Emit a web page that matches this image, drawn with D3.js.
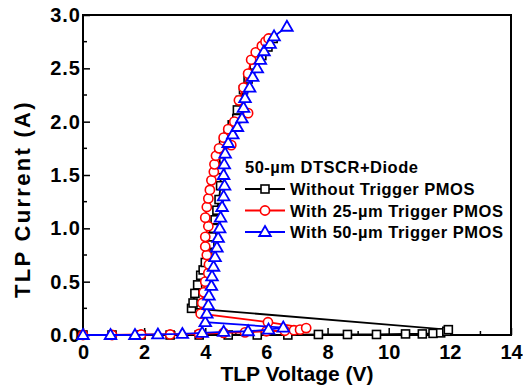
<!DOCTYPE html>
<html>
<head>
<meta charset="utf-8">
<script src="https://cdn.jsdelivr.net/npm/d3@7"></script>
<style>
  body { margin: 0; background: #fff; }
  svg { display: block; font-family: "Liberation Sans", Arial, sans-serif; font-weight: bold; }
</style>
</head>
<body>
<div id="chart"></div>
<script>
const withoutV = [0, 0.95, 1.9, 2.85, 3.8, 4.75, 5.7, 6.7, 7.7, 8.65, 9.6, 10.55, 11.1, 11.45, 11.7, 11.9, 11.95,
  3.55, 3.6, 3.66, 3.75, 3.85, 3.93, 4.0, 4.08, 4.15, 4.22, 4.27, 4.32, 4.38, 4.45, 4.5, 4.5, 4.45, 4.6, 4.75, 4.88, 5.03, 5.05, 5.15, 5.25, 5.4, 5.6, 5.85, 6.05, 6.22];
const withoutI = [0, 0, 0, 0, 0, 0, 0, 0, 0.005, 0.005, 0.005, 0.01, 0.01, 0.015, 0.02, 0.035, 0.05,
  0.25, 0.3, 0.39, 0.47, 0.56, 0.61, 0.68, 0.76, 0.85, 0.92, 1.0, 1.08, 1.17, 1.27, 1.4, 1.55, 1.7, 1.8, 1.89, 1.97, 2.03, 2.11, 2.2, 2.3, 2.4, 2.53, 2.62, 2.7, 2.78, 2.84];

const pmos25V = [0, 0.95, 1.9, 2.85, 3.8, 4.6, 5.3, 6.0, 6.6, 6.9, 7.1, 7.3, 6.05,
  3.85, 3.9, 3.95, 4.0, 4.1, 4.12, 4.05, 4.0, 4.0, 4.1, 4.0, 4.05, 4.1, 4.15, 4.2, 4.28, 4.3, 4.35, 4.45, 4.85, 4.6, 4.75, 4.95, 5.4, 5.1, 5.25, 5.4, 5.5, 5.65, 5.85, 5.97, 6.07];
const pmos25I = [0, 0, 0.005, 0.005, 0.01, 0.02, 0.025, 0.035, 0.04, 0.045, 0.05, 0.065, 0.12,
  0.2, 0.3, 0.4, 0.5, 0.58, 0.66, 0.75, 0.83, 0.92, 1.02, 1.1, 1.2, 1.28, 1.36, 1.45, 1.53, 1.6, 1.68, 1.75, 1.78, 1.85, 1.93, 2.0, 2.08, 2.2, 2.32, 2.45, 2.58, 2.65, 2.71, 2.75, 2.78];

const pmos50V = [0, 0.9, 1.7, 2.45, 3.25, 3.9, 4.6, 5.4, 6.07, 6.55,
  4.0, 4.05, 4.1, 4.12, 4.2, 4.22, 4.27, 4.32, 4.38, 4.42, 4.47, 4.5, 4.55, 4.6, 4.63, 4.6, 4.62, 4.65, 4.75, 4.9, 5.05, 5.2, 5.25, 5.3, 5.45, 5.55, 5.7, 5.8, 5.92, 6.12, 6.25, 6.67];
const pmos50I = [0, 0, 0, 0.005, 0.01, 0.02, 0.03, 0.035, 0.05, 0.07,
  0.12, 0.2, 0.28, 0.37, 0.46, 0.55, 0.64, 0.73, 0.82, 0.91, 1.0, 1.1, 1.2, 1.3, 1.4, 1.5, 1.6, 1.7, 1.8, 1.88, 1.95, 2.03, 2.13, 2.22, 2.32, 2.42, 2.5, 2.58, 2.66, 2.73, 2.8, 2.89];

const seriesNames = ['Without Trigger PMOS', 'With 25-\u00b5m Trigger PMOS', 'With 50-\u00b5m Trigger PMOS'];
const seriesColors = ['#000000', '#ff0000', '#0000ff'];
const seriesShapes = ['square', 'circle', 'triangle'];
const legendTitle = '50-\u00b5m DTSCR+Diode';
const xTicks = [0, 2, 4, 6, 8, 10, 12, 14];
const yTicks = [0, 0.5, 1.0, 1.5, 2.0, 2.5, 3.0];

const series = [
  { v: withoutV, i: withoutI },
  { v: pmos25V, i: pmos25I },
  { v: pmos50V, i: pmos50I },
].map((s, k) => ({
  name: seriesNames[k],
  color: seriesColors[k],
  shape: seriesShapes[k],
  points: s.v.map((v, j) => ({ v: v, i: s.i[j] })),
}));

const svgWidth = 523, svgHeight = 389;
const margin = { top: 15, right: 12, bottom: 54, left: 83 };
const width = svgWidth - margin.left - margin.right;
const height = svgHeight - margin.top - margin.bottom;

const svg = d3.select('#chart').append('svg')
  .attr('width', svgWidth)
  .attr('height', svgHeight);
const g = svg.append('g').attr('transform', `translate(${margin.left},${margin.top})`);

const x = d3.scaleLinear().domain([0, 14]).range([0, width]);
const y = d3.scaleLinear().domain([0, 3]).range([height, 0]);

// minor ticks (inward)
const xMinor = d3.range(1, 14, 2);
const yMinor = d3.range(0.25, 3, 0.5);
g.selectAll('.xminor').data(xMinor).enter().append('line')
  .attr('x1', (d) => x(d)).attr('x2', (d) => x(d))
  .attr('y1', height).attr('y2', height - 4)
  .attr('stroke', '#000').attr('stroke-width', 1.5);
g.selectAll('.yminor').data(yMinor).enter().append('line')
  .attr('x1', 0).attr('x2', 4)
  .attr('y1', (d) => y(d)).attr('y2', (d) => y(d))
  .attr('stroke', '#000').attr('stroke-width', 1.5);

// axes with inward major ticks
const xAxis = g.append('g')
  .attr('transform', `translate(0,${height})`)
  .call(d3.axisBottom(x).tickValues(xTicks).tickSize(-7).tickPadding(10).tickSizeOuter(0));
const yAxis = g.append('g')
  .call(d3.axisLeft(y).tickValues(yTicks).tickFormat(d3.format('.1f')).tickSize(-7).tickPadding(2).tickSizeOuter(0));
[xAxis, yAxis].forEach((a) => {
  a.select('.domain').remove();
  a.selectAll('line').attr('stroke-width', 1.5);
  a.selectAll('text')
    .style('font-family', '"Liberation Sans", Arial, sans-serif')
    .style('font-weight', 'bold')
    .style('font-size', '20px')
    .attr('fill', '#000');
});
yAxis.selectAll('text').style('letter-spacing', '1px');

// frame
g.append('rect')
  .attr('width', width).attr('height', height)
  .attr('fill', 'none').attr('stroke', '#000').attr('stroke-width', 2);

// axis titles
svg.append('text')
  .attr('x', margin.left + width / 2).attr('y', 381)
  .attr('text-anchor', 'middle')
  .style('font-size', '21px')
  .text('TLP Voltage (V)');
svg.append('text')
  .attr('transform', `translate(30,199) rotate(-90)`)
  .attr('text-anchor', 'middle')
  .style('font-size', '22px')
  .style('letter-spacing', '2.3px')
  .text('TLP Current (A)');

const line = d3.line().x((d) => x(d.v)).y((d) => y(d.i));

function drawMarker(sel, shape, color) {
  if (shape === 'square') {
    sel.append('rect').attr('x', -4).attr('y', -4).attr('width', 8).attr('height', 8)
      .attr('fill', '#fff').attr('stroke', color).attr('stroke-width', 1.6);
  } else if (shape === 'circle') {
    sel.append('circle').attr('r', 4.6)
      .attr('fill', '#fff').attr('stroke', color).attr('stroke-width', 1.6);
  } else {
    sel.append('path').attr('d', 'M0,-6L5.8,4L-5.8,4Z')
      .attr('fill', '#fff').attr('stroke', color).attr('stroke-width', 1.8);
  }
}

series.forEach((s) => {
  g.append('path')
    .datum(s.points)
    .attr('fill', 'none')
    .attr('stroke', s.color)
    .attr('stroke-width', 1.8)
    .attr('d', line);
  g.selectAll(null).data(s.points).enter().append('g')
    .attr('transform', (d) => `translate(${x(d.v)},${y(d.i)})`)
    .each(function () { drawMarker(d3.select(this), s.shape, s.color); });
});

// legend
const legend = svg.append('g').attr('transform', 'translate(245,167)');
legend.append('text').attr('x', 0).attr('y', 6)
  .style('font-size', '16.5px')
  .style('letter-spacing', '0.5px')
  .text(legendTitle);
series.forEach((s, k) => {
  const row = legend.append('g').attr('transform', `translate(0,${22 + k * 21.5})`);
  row.append('line').attr('x1', 0).attr('x2', 40)
    .attr('stroke', s.color).attr('stroke-width', 1.8);
  drawMarker(row.append('g').attr('transform', 'translate(20,0)'), s.shape, s.color);
  row.append('text').attr('x', 45).attr('y', 6)
    .style('font-size', '16.5px')
    .style('letter-spacing', '0.5px')
    .text(s.name);
});
</script>
</body>
</html>
